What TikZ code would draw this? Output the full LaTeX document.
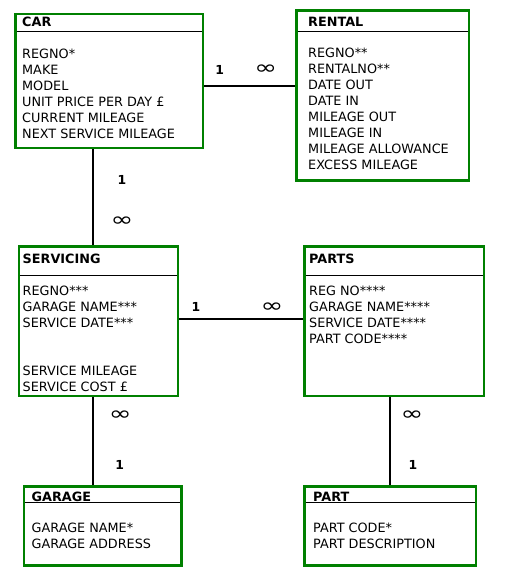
\documentclass[tikz,border=0pt]{standalone}
\usepackage{fontspec}
\setmainfont{DejaVu Sans}
\definecolor{entgreen}{RGB}{0,128,0}
\newcommand{\manysym}{\scalebox{2.2}[1.6]{\mdseries ∞}}

\begin{document}
\begin{tikzpicture}[x=1pt,y=-1pt,
  entity/.style={draw=entgreen,line width=2.5pt,anchor=north west,inner sep=0pt,outer sep=0pt},
  title/.style={anchor=base west,inner sep=0pt,font=\fontsize{12.8}{16}\selectfont\bfseries},
  attrs/.style={anchor=base west,inner sep=0pt,align=left,font=\fontsize{12.8}{16}\selectfont},
  card/.style={inner sep=0pt,font=\fontsize{12.4}{12}\selectfont\bfseries},
  link/.style={draw,line width=2pt,shorten <=1.25pt,shorten >=1.25pt}]
\useasboundingbox (0,0) rectangle (507,580);

% entities
\node [entity,minimum width=187.5pt,minimum height=134pt] (car) at (15.5,14) {};
\node [entity,minimum width=172.5pt,minimum height=170pt] (rental) at (296.3,10.5) {};
\node [entity,minimum width=158.8pt,minimum height=149.3pt] (servicing) at (19,246.5) {};
\node [entity,minimum width=179.5pt,minimum height=149.3pt] (parts) at (304.3,246.5) {};
\node [entity,minimum width=157.5pt,minimum height=79.2pt] (garage) at (24,486.3) {};
\node [entity,minimum width=171.5pt,minimum height=79.2pt] (part) at (304.3,486.3) {};

% header lines
\foreach \n/\d in {car/17.3,rental/20.8,servicing/28.5,parts/28.5,garage/15.7,part/15.7}
  \draw [line width=1pt] ([xshift=1.25pt,yshift=-\d pt]\n.north west) -- ([xshift=-1.25pt,yshift=-\d pt]\n.north east);

% titles and attributes (attrs sit on the baseline of their last line)
\node [title] (car-t) at (22,26.3) {CAR};
\node [attrs] (car-a) at (22,138.3) {REGNO*\\MAKE\\MODEL\\UNIT PRICE PER DAY £\\CURRENT MILEAGE\\NEXT SERVICE MILEAGE};
\node [title] (rental-t) at (308,26.7) {RENTAL};
\node [attrs] (rental-a) at (308,169.8) {REGNO**\\RENTALNO**\\DATE OUT\\DATE IN\\MILEAGE OUT\\MILEAGE IN\\MILEAGE ALLOWANCE\\EXCESS MILEAGE};
\node [title] (servicing-t) at (22.5,263) {SERVICING};
\node [attrs] (servicing-a) at (22.5,391) {REGNO***\\GARAGE NAME***\\SERVICE DATE***\\ \\ \\SERVICE MILEAGE\\SERVICE COST £};
\node [title] (parts-t) at (309,263) {PARTS};
\node [attrs] (parts-a) at (309,343) {REG NO****\\GARAGE NAME****\\SERVICE DATE****\\PART CODE****};
\node [title] (garage-t) at (31.5,501) {GARAGE};
\node [attrs] (garage-a) at (31.5,548) {GARAGE NAME*\\GARAGE ADDRESS};
\node [title] (part-t) at (313,501) {PART};
\node [attrs] (part-a) at (313,548) {PART CODE*\\PART DESCRIPTION};

% relationships
\draw [link] (car.east |- 0,85.7) -- (rental.west |- 0,85.7);
\draw [link] (car.south -| 93,0) -- (servicing.north -| 93,0);
\draw [link] (servicing.east |- 0,318.7) -- (parts.west |- 0,318.7);
\draw [link] (servicing.south -| 93,0) -- (garage.north -| 93,0);
\draw [link] (parts.south -| 390,0) -- (part.north -| 390,0);

% cardinalities
\node [card] (car-rental-1) at (219.6,70) {1};
\node [card] (car-rental-n) at (265.7,69.7) {\manysym};
\node [card] (car-servicing-1) at (122,180) {1};
\node [card] (car-servicing-n) at (122,222) {\manysym};
\node [card] (servicing-parts-1) at (196,306.5) {1};
\node [card] (servicing-parts-n) at (272,307.3) {\manysym};
\node [card] (garage-servicing-n) at (120.3,415.3) {\manysym};
\node [card] (garage-servicing-1) at (119.7,464.8) {1};
\node [card] (part-parts-n) at (412,415.3) {\manysym};
\node [card] (part-parts-1) at (413,464.8) {1};
\end{tikzpicture}
\end{document}
